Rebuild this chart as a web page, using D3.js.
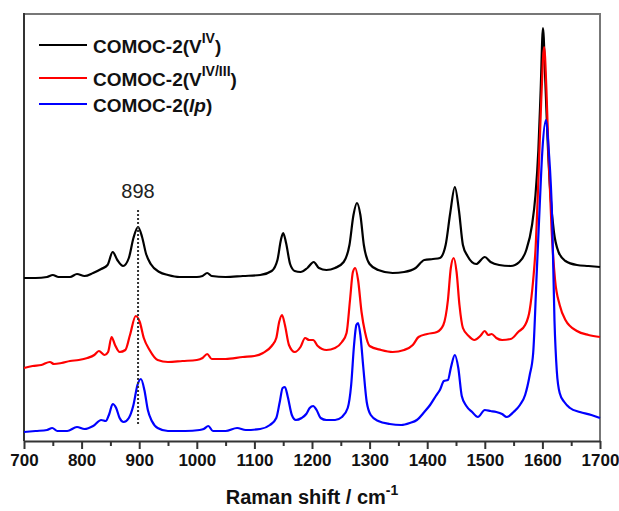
<!DOCTYPE html>
<html>
<head>
<meta charset="utf-8">
<script src="https://cdn.jsdelivr.net/npm/d3@7"></script>
<style>
  body { margin: 0; background: #fff; }
  svg { display: block; font-family: "Liberation Sans", Arial, sans-serif; }
</style>
</head>
<body>
<svg id="chart" width="619" height="511"></svg>
<script>
// Raman spectra: [wavenumber, intensity] (arbitrary units, stacked)
var seriesNames = ['COMOC-2(V^IV)', 'COMOC-2(V^IV/III)', 'COMOC-2(lp)'];
var seriesColors = ['#000000', '#ff0000', '#0000ff'];

var blackData = [
  [700,163],[720,163],[740,164],[750,166],[760,164],[780,164],[792,167],[805,165],[820,168],
  [834,172],[845,176],[854,189],[862,181],[872,175],[882,183],[890,203],[898,214],[905,204],
  [912,187],[920,177],[935,169],[950,166],[970,164],[1000,164],[1010,165],[1018,168],[1026,165],
  [1050,164],[1080,165],[1110,166],[1130,170],[1140,181],[1146,201],[1150,208],[1155,198],
  [1162,177],[1170,170],[1180,169],[1192,173],[1203,179],[1212,173],[1225,171],[1240,173],
  [1255,179],[1265,196],[1272,226],[1278,238],[1284,226],[1290,196],[1300,177],[1315,171],
  [1340,168],[1360,169],[1380,173],[1395,181],[1410,182],[1422,183],[1432,196],[1440,228],
  [1448,254],[1455,231],[1462,196],[1470,185],[1485,177],[1500,184],[1510,179],[1525,176],
  [1545,175],[1560,179],[1572,191],[1582,216],[1588,246],[1593,291],[1597,351],[1601,413],
  [1605,361],[1609,301],[1614,246],[1620,209],[1628,189],[1640,180],[1660,176],[1680,175],[1700,174]
];

var redData = [
  [700,73],[715,75],[730,76],[745,79],[752,77],[765,78],[780,80],[795,81],[810,83],[822,86],
  [830,90],[840,86],[846,89],[852,104],[858,96],[866,89],[876,91],[884,106],[894,125],[901,119],
  [908,103],[918,91],[932,81],[950,79],[975,80],[1000,81],[1010,83],[1018,87],[1026,82],[1050,82],
  [1080,84],[1100,85],[1115,88],[1130,95],[1138,103],[1143,119],[1148,126],[1153,116],[1160,96],
  [1170,89],[1180,94],[1188,103],[1195,101],[1202,101],[1210,95],[1225,91],[1240,93],[1252,99],
  [1260,108],[1266,141],[1271,169],[1275,173],[1280,161],[1286,129],[1292,109],[1300,95],
  [1320,91],[1340,89],[1360,91],[1375,96],[1385,104],[1400,107],[1417,109],[1428,116],[1436,141],
  [1441,173],[1446,183],[1451,169],[1456,136],[1462,113],[1472,105],[1482,101],[1492,105],
  [1500,110],[1506,106],[1512,107],[1520,103],[1530,101],[1545,102],[1558,109],[1570,116],
  [1578,131],[1584,161],[1588,191],[1593,261],[1598,341],[1603,394],[1607,351],[1611,281],
  [1616,211],[1622,161],[1630,136],[1640,121],[1660,110],[1680,106],[1700,104]
];

var blueData = [
  [700,9],[720,10],[740,11],[749,13],[758,10],[775,10],[792,14],[805,12],[820,15],[834,21],
  [842,20],[848,27],[854,37],[860,33],[866,23],[873,19],[882,23],[890,36],[897,56],[903,62],
  [909,51],[915,31],[922,20],[932,13],[950,10],[980,10],[1005,11],[1012,12],[1020,15],[1028,10],
  [1050,10],[1070,13],[1085,11],[1110,12],[1127,16],[1138,23],[1144,39],[1149,53],[1153,54],
  [1158,44],[1165,26],[1172,21],[1182,23],[1190,27],[1196,33],[1202,35],[1208,31],[1215,23],
  [1225,21],[1240,21],[1252,24],[1262,33],[1268,56],[1273,96],[1277,116],[1280,118],[1284,106],
  [1289,74],[1295,39],[1302,26],[1315,20],[1335,17],[1355,16],[1370,18],[1382,21],[1395,29],
  [1405,36],[1415,45],[1422,51],[1429,60],[1436,61],[1441,73],[1448,86],[1454,73],[1460,45],
  [1468,35],[1478,29],[1488,24],[1500,31],[1510,30],[1520,29],[1530,27],[1538,24],[1550,29],
  [1561,36],[1570,46],[1578,66],[1584,88],[1590,166],[1595,231],[1600,291],[1606,321],[1611,291],
  [1617,221],[1621,120],[1625,70],[1630,48],[1638,39],[1648,33],[1665,29],[1685,26],[1700,23]
];

var majorTicks = [700, 800, 900, 1000, 1100, 1200, 1300, 1400, 1500, 1600, 1700];
var minorTicks = [750, 850, 950, 1050, 1150, 1250, 1350, 1450, 1550, 1650];
var markerValue = 898;

var svg = d3.select('#chart');
var plotLeft = 24, plotRight = 600, plotTop = 14, plotBottom = 441;

var x = d3.scaleLinear().domain([700, 1700]).range([plotLeft, plotRight]);
var y = d3.scaleLinear().domain([0, 427]).range([plotBottom, plotTop]);

// frame
svg.append('path')
  .attr('d', 'M' + plotLeft + ',' + plotTop + 'H' + plotRight + 'V' + plotBottom)
  .attr('fill', 'none').attr('stroke', '#777').attr('stroke-width', 2);
svg.append('line')
  .attr('x1', plotLeft).attr('x2', plotLeft).attr('y1', plotTop - 1).attr('y2', plotBottom)
  .attr('stroke', '#333').attr('stroke-width', 2);

// minor ticks
svg.append('g')
  .attr('transform', 'translate(0,' + plotBottom + ')')
  .call(d3.axisBottom(x).tickValues(minorTicks).tickSize(5).tickFormat(''))
  .call(function (g) {
    g.select('.domain').remove();
    g.selectAll('line').attr('stroke', '#333').attr('stroke-width', 2);
  });

// major ticks + labels
svg.append('g')
  .attr('transform', 'translate(0,' + plotBottom + ')')
  .call(d3.axisBottom(x).tickValues(majorTicks).tickSize(8).tickSizeOuter(0).tickPadding(5).tickFormat(d3.format('d')))
  .call(function (g) {
    g.select('.domain').attr('stroke', '#333').attr('stroke-width', 2);
    g.selectAll('line').attr('stroke', '#333').attr('stroke-width', 2);
    g.selectAll('text')
      .attr('font-size', 17).attr('font-weight', 'bold')
      .attr('font-family', '"Liberation Sans", Arial, sans-serif')
      .attr('fill', '#111');
  });

// axis title
var title = svg.append('text')
  .attr('x', 312).attr('y', 504)
  .attr('text-anchor', 'middle')
  .attr('font-size', 20).attr('font-weight', 'bold').attr('fill', '#111');
title.append('tspan').text('Raman shift / cm');
title.append('tspan').attr('dy', -9).attr('font-size', 14).text('-1');

// spectra
var line = d3.line()
  .x(function (d) { return x(d[0]); })
  .y(function (d) { return y(d[1]); })
  .curve(d3.curveMonotoneX);

[blackData, redData, blueData].forEach(function (data, i) {
  svg.append('path')
    .datum(data)
    .attr('d', line)
    .attr('fill', 'none')
    .attr('stroke', seriesColors[i])
    .attr('stroke-width', 2.2)
    .attr('stroke-linejoin', 'round');
});

// 898 marker
svg.append('line')
  .attr('x1', x(markerValue)).attr('x2', x(markerValue))
  .attr('y1', 210).attr('y2', 425)
  .attr('stroke', '#333').attr('stroke-width', 2).attr('stroke-dasharray', '2,2');
svg.append('text')
  .attr('x', x(markerValue)).attr('y', 198)
  .attr('text-anchor', 'middle')
  .attr('font-size', 20).attr('fill', '#222')
  .text(markerValue);

// legend
var legendY = [45, 78, 104];
seriesNames.forEach(function (name, i) {
  var g = svg.append('g');
  g.append('line')
    .attr('x1', 39).attr('x2', 87).attr('y1', legendY[i]).attr('y2', legendY[i])
    .attr('stroke', seriesColors[i]).attr('stroke-width', 2);
  var t = g.append('text')
    .attr('x', 93).attr('y', legendY[i] + 8)
    .attr('font-size', 19).attr('font-weight', 'bold').attr('fill', '#111');
  if (name.indexOf('^') > -1) {
    var parts = name.split('^');
    var sup = parts[1].replace(')', '');
    t.append('tspan').text(parts[0]);
    t.append('tspan').attr('dy', -10).attr('font-size', 14).text(sup);
    t.append('tspan').attr('dy', 10).text(')');
  } else {
    t.append('tspan').text('COMOC-2(');
    t.append('tspan').attr('font-style', 'italic').text('lp');
    t.append('tspan').text(')');
  }
});
</script>
</body>
</html>
